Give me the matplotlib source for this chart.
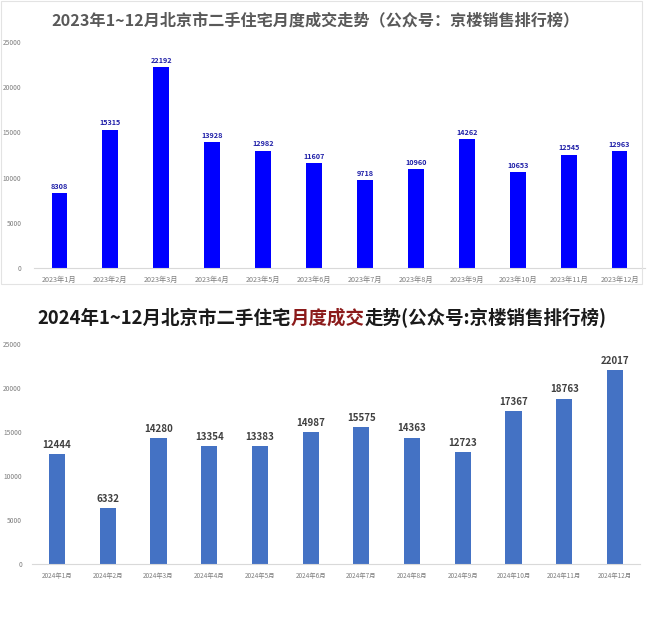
import matplotlib
matplotlib.use("Agg")
import matplotlib.pyplot as plt
from matplotlib.patches import Rectangle

plt.rcParams['font.family'] = ['Noto Sans CJK SC', 'DejaVu Sans']

# 数据
meses_2023 = [f"2023年{i}月" for i in range(1, 13)]
ventas_2023 = [8308, 15315, 22192, 13928, 12982, 11607, 9718, 10960, 14262, 10653, 12545, 12963]

meses_2024 = [f"2024年{i}月" for i in range(1, 13)]
ventas_2024 = [12444, 6332, 14280, 13354, 13383, 14987, 15575, 14363, 12723, 17367, 18763, 22017]

titulo_2023 = "2023年1~12月北京市二手住宅月度成交走势（公众号：京楼销售排行榜）"
titulo_2024 = ["2024年1~12月北京市二手住宅", "月度成交", "走势(公众号:京楼销售排行榜)"]

fig = plt.figure(figsize=(6.5, 6.17), dpi=100)
W, H = 650, 617


def ejes(x0, y0, x1, y1):
    # coordenadas en pixeles (desde arriba)
    return fig.add_axes([x0 / W, 1 - y1 / H, (x1 - x0) / W, (y1 - y0) / H])


def estilo(ax, etiquetas, tam_tick, pad_y):
    for s in ["top", "right", "left"]:
        ax.spines[s].set_visible(False)
    ax.spines["bottom"].set_color("#d9d9d9")
    ax.spines["bottom"].set_linewidth(0.8)
    ax.set_ylim(0, 25000)
    ax.set_yticks(range(0, 25001, 5000))
    ax.set_xlim(-0.5, len(etiquetas) - 0.5)
    ax.set_xticks(range(len(etiquetas)))
    ax.set_xticklabels(etiquetas)
    ax.tick_params(axis="both", length=0, labelsize=tam_tick, colors="#7f7f7f")
    ax.tick_params(axis="x", pad=6)
    ax.tick_params(axis="y", pad=pad_y, labelsize=4.8)


# borde del primer gráfico
fig.patches.append(Rectangle((1 / W, 1 - 284 / H), 641 / W, 283 / H, transform=fig.transFigure,
                             fill=False, edgecolor="#e3e3e3", linewidth=0.8))

# 2023
ax1 = ejes(34, 42, 645, 268)
barras = ax1.bar(range(len(meses_2023)), ventas_2023, width=0.31, color="#0000ff")
estilo(ax1, meses_2023, 5.2, 9)
for b, v in zip(barras, ventas_2023):
    ax1.text(b.get_x() + b.get_width() / 2, v + 350, str(v), ha="center", va="bottom",
             fontsize=5.2, fontweight="bold", color="#1f1fa8")
fig.text(0.485, 1 - 20 / H, titulo_2023, ha="center", va="center", fontsize=11.6,
         fontweight="bold", color="#595959")

# 2024
ax2 = ejes(31.6, 344, 640.4, 564)
barras = ax2.bar(range(len(meses_2024)), ventas_2024, width=0.32, color="#4472c4")
estilo(ax2, meses_2024, 4.6, 7)
for b, v in zip(barras, ventas_2024):
    ax2.text(b.get_x() + b.get_width() / 2, v + 500, str(v), ha="center", va="bottom",
             fontsize=7, fontweight="bold", color="#404040")

# título con colores
colores = ["#1a1a1a", "#8b1a1a", "#1a1a1a"]
fig.canvas.draw()
r = fig.canvas.get_renderer()
piezas = []
for t, c in zip(titulo_2024, colores):
    piezas.append(fig.text(0, 1 - 318 / H, t, ha="left", va="center", fontsize=13.3,
                           fontweight="bold", color=c))
anchos = [p.get_window_extent(renderer=r).width for p in piezas]
xpos = 37
for p, w in zip(piezas, anchos):
    p.set_x(xpos / W)
    xpos += w

fig.savefig("out.png", dpi=100, facecolor="white")
